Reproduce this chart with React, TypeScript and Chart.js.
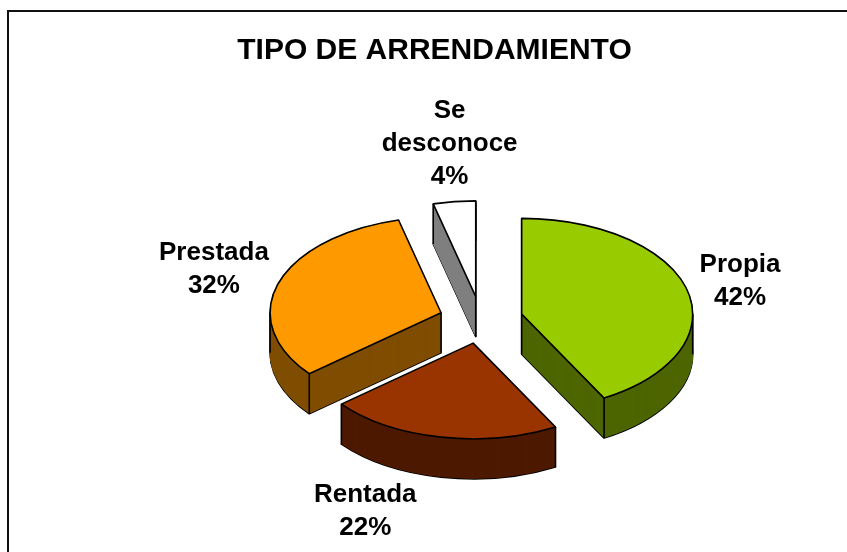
import React, { useEffect, useRef } from 'react';
import { Chart, registerables } from 'chart.js';

Chart.register(...registerables);

// ---------- data ----------
const TITLE = 'TIPO DE ARRENDAMIENTO';
const categories = ['Propia', 'Rentada', 'Prestada', 'Se desconoce'];
const labelLines = [['Propia'], ['Rentada'], ['Prestada'], ['Se', 'desconoce']];
const values = [42, 22, 32, 4];
const percentLabels = ['42%', '22%', '32%', '4%'];

// ---------- styles ----------
const topColors = ['#99CC00', '#993300', '#FF9900', '#FFFFFF'];
const sideColors = ['#4D6600', '#4D1A00', '#804D00', '#808080'];
const FONT = '"Liberation Sans", Arial, Helvetica, sans-serif';

const pie3d = {
  id: 'pie3d',
  afterDatasetsUpdate(chart: any, _args: any, opts: any) {
    const meta = chart.getDatasetMeta(0);
    meta.data.forEach((arc: any) => {
      const mid = (arc.startAngle + arc.endAngle) / 2;
      arc.x += Math.cos(mid) * opts.explode;
      arc.y += Math.sin(mid) * opts.explode;
    });
  },
  beforeDatasetDraw(chart: any, args: any, opts: any) {
    const ctx = chart.ctx;
    const meta = args.meta;
    const ca = chart.chartArea;
    const cx = (ca.left + ca.right) / 2;
    const cy = (ca.top + ca.bottom) / 2;
    const t = opts.tilt;
    const D = opts.depth;
    const apply = (dy: number) => {
      ctx.translate(0, dy);
      ctx.translate(cx, cy);
      ctx.scale(1, t);
      ctx.translate(-cx, -cy);
    };
    const wedgePath = (arc: any, dy: number) => {
      ctx.save();
      apply(dy);
      ctx.beginPath();
      ctx.moveTo(arc.x, arc.y);
      ctx.arc(arc.x, arc.y, arc.outerRadius, arc.startAngle, arc.endAngle);
      ctx.closePath();
      ctx.restore();
    };
    // side layers, deepest first
    for (let d = D; d >= 0.5; d -= 0.5) {
      ctx.save();
      apply(d);
      meta.data.forEach((arc: any, i: number) => {
        const orig = arc.options;
        arc.options = Object.assign({}, orig, {
          backgroundColor: opts.sideColors[i],
          borderColor: opts.sideColors[i],
          borderWidth: d === D ? 0 : 1,
        });
        arc.draw(ctx);
        arc.options = orig;
      });
      ctx.restore();
      if (d === D) {
        meta.data.forEach((arc: any) => {
          wedgePath(arc, D);
          ctx.save();
          ctx.lineWidth = opts.lineWidth;
          ctx.strokeStyle = '#000';
          ctx.lineJoin = 'round';
          ctx.stroke();
          ctx.restore();
        });
      }
    }
    // vertical edges
    ctx.save();
    ctx.beginPath();
    meta.data.forEach((arc: any) => {
      const { x, y, startAngle: sa, endAngle: ea, outerRadius: R } = arc;
      const pts: number[][] = [
        [x, y],
        [x + R * Math.cos(sa), y + R * Math.sin(sa)],
        [x + R * Math.cos(ea), y + R * Math.sin(ea)],
      ];
      [-Math.PI, 0, Math.PI, 2 * Math.PI].forEach((a) => {
        if (a > sa && a < ea) pts.push([x + R * Math.cos(a), y + R * Math.sin(a)]);
      });
      pts.forEach(([px, py]) => {
        const sy = cy + (py - cy) * t;
        ctx.moveTo(px, sy);
        ctx.lineTo(px, sy + D);
      });
    });
    ctx.lineWidth = opts.lineWidth;
    ctx.strokeStyle = '#000';
    ctx.stroke();
    ctx.restore();
    // transform for top faces
    ctx.save();
    apply(0);
    return true;
  },
  afterDatasetDraw(chart: any, args: any, opts: any) {
    const ctx = chart.ctx;
    ctx.restore();
    const ca = chart.chartArea;
    const cx = (ca.left + ca.right) / 2;
    const cy = (ca.top + ca.bottom) / 2;
    const t = opts.tilt;
    args.meta.data.forEach((arc: any) => {
      ctx.save();
      ctx.translate(cx, cy);
      ctx.scale(1, t);
      ctx.translate(-cx, -cy);
      ctx.beginPath();
      ctx.moveTo(arc.x, arc.y);
      ctx.arc(arc.x, arc.y, arc.outerRadius, arc.startAngle, arc.endAngle);
      ctx.closePath();
      ctx.restore();
      ctx.save();
      ctx.lineWidth = opts.lineWidth;
      ctx.strokeStyle = '#000';
      ctx.lineJoin = 'round';
      ctx.stroke();
      ctx.restore();
    });
  },
  afterDraw(chart: any, _args: any, opts: any) {
    const ctx = chart.ctx;
    const ca = chart.chartArea;
    const cy = (ca.top + ca.bottom) / 2;
    const t = opts.tilt;
    ctx.save();
    ctx.fillStyle = '#000';
    ctx.textAlign = 'center';
    ctx.textBaseline = 'middle';
    // title
    ctx.font = `bold ${opts.titleSize}px ${FONT}`;
    ctx.fillText(TITLE, chart.width / 2, opts.titleY);
    // labels
    ctx.font = `bold ${opts.labelSize}px ${FONT}`;
    const meta = chart.getDatasetMeta(0);
    meta.data.forEach((arc: any, i: number) => {
      const lines = [...labelLines[i], percentLabels[i]];
      const w = Math.max(...lines.map((s) => ctx.measureText(s).width));
      const h = lines.length * opts.lineH;
      const mid = (arc.startAngle + arc.endAngle) / 2;
      const c = Math.cos(mid);
      const s = Math.sin(mid);
      const r = arc.outerRadius * opts.labelK;
      const ax = arc.x + r * c;
      const ay = cy + (arc.y + r * s - cy) * t + (s > 0 ? opts.depth : 0);
      const nudge = opts.labelNudge[i] || [0, 0];
      const bx = ax + c * w / 2 + nudge[0];
      const by = ay + s * h / 2 + nudge[1];
      lines.forEach((ln, j) => {
        ctx.fillText(ln, bx, by + (j - (lines.length - 1) / 2) * opts.lineH);
      });
    });
    ctx.restore();
  },
};

export default function App() {
  const ref = useRef<HTMLCanvasElement>(null);
  useEffect(() => {
    const chart = new Chart(ref.current as HTMLCanvasElement, {
      type: 'pie',
      data: {
        labels: categories,
        datasets: [
          {
            data: values,
            backgroundColor: topColors,
            borderWidth: 0,
            clip: false,
          } as any,
        ],
      },
      options: {
        responsive: false,
        animation: false,
        events: [],
        radius: 171,
        layout: { padding: { left: 93, right: 0, top: 56, bottom: 0 } },
        plugins: {
          legend: { display: false },
          tooltip: { enabled: false },
          title: { display: false },
          pie3d: {
            tilt: 0.56,
            depth: 40,
            explode: 42,
            lineWidth: 1.6,
            sideColors,
            titleSize: 30,
            titleY: 39,
            labelSize: 26,
            lineH: 33,
            labelK: 1.1,
            labelNudge: [[-3, 2], [-63, -8], [4, -1], [6, 1]],
          },
        } as any,
      } as any,
      plugins: [pie3d],
    });
    return () => chart.destroy();
  }, []);
  return (
    <div
      style={{
        position: 'fixed',
        left: 0,
        top: 0,
        width: 847,
        height: 552,
        overflow: 'hidden',
        background: '#fff',
      }}
    >
      <div
        style={{
          position: 'absolute',
          left: 7,
          top: 10,
          borderLeft: '2px solid #111',
          borderTop: '2px solid #111',
        }}
      >
        <canvas ref={ref} width={851} height={560} style={{ display: 'block', width: 851, height: 560 }} />
      </div>
    </div>
  );
}
